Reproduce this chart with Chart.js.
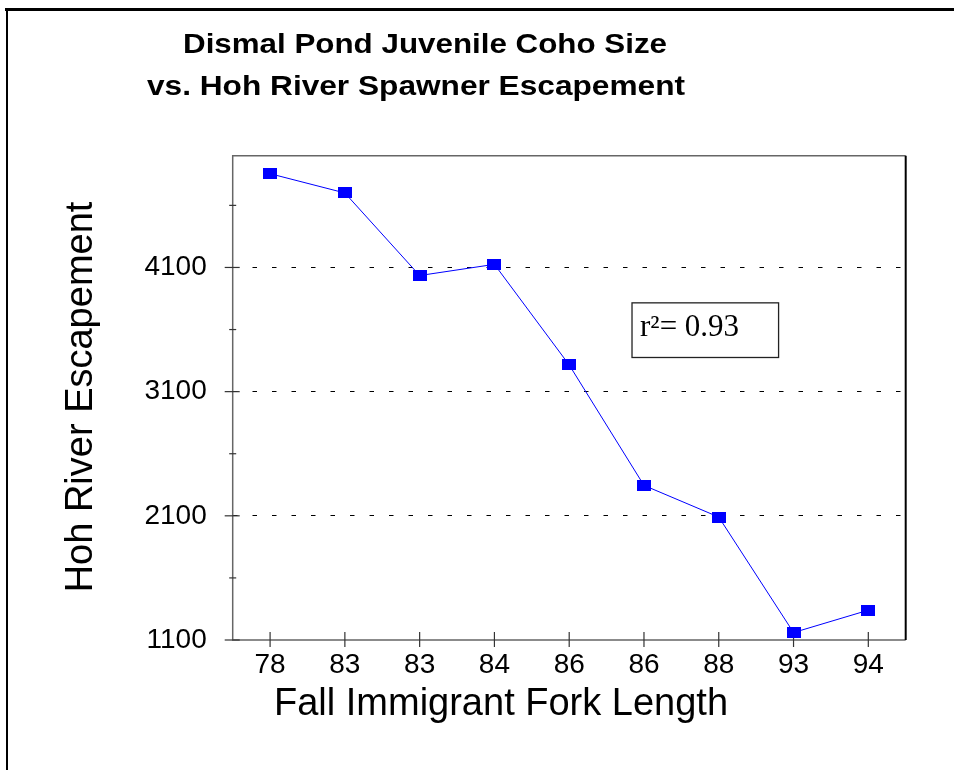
<!DOCTYPE html>
<html>
<head>
<meta charset="utf-8">
<script src="https://cdn.jsdelivr.net/npm/chart.js@4.4.1/dist/chart.umd.min.js"></script>
<style>
  html, body { margin: 0; padding: 0; background: #fff; }
</style>
</head>
<body>
<canvas id="cohoChart" width="954" height="770"></canvas>
<script>
// data
const forkLengths = ["78", "83", "83", "84", "86", "86", "88", "93", "94"];
const escapement = [4855, 4700, 4035, 4125, 3315, 2345, 2090, 1160, 1340];
const yTickValues = [1100, 1600, 2100, 2600, 3100, 3600, 4100, 4600];
const yLabelValues = [1100, 2100, 3100, 4100];
const titleLines = ["Dismal Pond Juvenile Coho Size", "vs. Hoh River Spawner Escapement"];
const yTitle = "Hoh River Escapement";
const xTitle = "Fall Immigrant Fork Length";
const rSquaredText = "r\u00b2= 0.93";

const SANS = "'Liberation Sans', Arial, sans-serif";
const SERIF = "'Liberation Serif', 'Times New Roman', serif";

// blue rectangular marker (slightly wider than tall, like the original)
const marker = document.createElement("canvas");
marker.width = 14;
marker.height = 11;
const mctx = marker.getContext("2d");
mctx.fillStyle = "#0000ff";
mctx.fillRect(0, 0, 14, 11);

// draw a line of text centred on cx, stretched to a given width
function fitText(ctx, text, cx, baseline, width) {
  const w = ctx.measureText(text).width;
  ctx.save();
  ctx.translate(cx, baseline);
  ctx.scale(width / w, 1);
  ctx.fillText(text, 0, 0);
  ctx.restore();
}

const decorations = {
  id: "decorations",
  beforeDraw(chart) {
    const ctx = chart.ctx;
    ctx.save();
    ctx.fillStyle = "#fff";
    ctx.fillRect(0, 0, chart.width, chart.height);
    // outer frame (top + left)
    ctx.fillStyle = "#000";
    ctx.fillRect(5, 8, chart.width - 5, 3);
    ctx.fillRect(6, 8, 2, chart.height - 8);
    ctx.restore();
  },
  beforeDatasetsDraw(chart) {
    const ctx = chart.ctx;
    const a = chart.chartArea;
    const xs = chart.scales.x;
    const ys = chart.scales.y;
    ctx.save();
    // plot frame
    ctx.lineWidth = 1.5;
    ctx.strokeStyle = "#666";
    ctx.beginPath();
    ctx.moveTo(a.right, a.top);
    ctx.lineTo(a.left, a.top);
    ctx.lineTo(a.left, a.bottom);
    ctx.lineTo(a.right, a.bottom);
    ctx.stroke();
    ctx.strokeStyle = "#000";
    ctx.lineWidth = 2;
    ctx.beginPath();
    ctx.moveTo(a.right, a.top);
    ctx.lineTo(a.right, a.bottom);
    ctx.stroke();

    // y ticks crossing the axis
    ctx.strokeStyle = "#333";
    ctx.lineWidth = 1.2;
    ys.ticks.forEach((t) => {
      const py = ys.getPixelForValue(t.value);
      const major = yLabelValues.includes(t.value);
      const out = major ? 8 : 3.5;
      const inn = major ? 7 : 3.5;
      ctx.beginPath();
      ctx.moveTo(a.left - out, py);
      ctx.lineTo(a.left + inn, py);
      ctx.stroke();
    });
    // x ticks crossing the axis
    forkLengths.forEach((_, i) => {
      const px = xs.getPixelForTick(i);
      ctx.beginPath();
      ctx.moveTo(px, a.bottom - 8);
      ctx.lineTo(px, a.bottom + 7);
      ctx.stroke();
    });
    ctx.restore();
  },
  afterDraw(chart) {
    const ctx = chart.ctx;
    const xs = chart.scales.x;
    const ys = chart.scales.y;
    ctx.save();
    ctx.fillStyle = "#000";

    // main title
    ctx.font = "bold 28px " + SANS;
    ctx.textAlign = "center";
    ctx.textBaseline = "alphabetic";
    fitText(ctx, titleLines[0], 425, 53, 484);
    fitText(ctx, titleLines[1], 416, 95, 538);

    // axis titles
    ctx.font = "38px " + SANS;
    ctx.fillText(xTitle, 501, 715);
    ctx.save();
    ctx.translate(82, 397);
    ctx.rotate(-Math.PI / 2);
    ctx.textBaseline = "middle";
    ctx.fillText(yTitle, 0, 0);
    ctx.restore();

    // r² box, anchored in data space
    const bx0 = xs.getPixelForValue(4.84);
    const bx1 = xs.getPixelForValue(6.8);
    const by0 = ys.getPixelForValue(3815);
    const by1 = ys.getPixelForValue(3375);
    ctx.strokeStyle = "#222";
    ctx.lineWidth = 1.3;
    ctx.strokeRect(bx0, by0, bx1 - bx0, by1 - by0);
    ctx.font = "31px " + SERIF;
    ctx.textAlign = "left";
    ctx.fillText(rSquaredText, bx0 + 8, by0 + 33);
    ctx.restore();
  },
};

const ctx = document.getElementById("cohoChart");

new Chart(ctx, {
  type: "line",
  data: {
    labels: forkLengths,
    datasets: [
      {
        label: "Hoh River Escapement",
        data: escapement,
        borderColor: "#0000ff",
        borderWidth: 1,
        backgroundColor: "#0000ff",
        pointStyle: marker,
        tension: 0,
        fill: false,
      },
    ],
  },
  options: {
    responsive: false,
    animation: false,
    devicePixelRatio: 1,
    layout: { padding: { top: 155.7, right: 48.3, left: 0, bottom: 0 } },
    plugins: {
      legend: { display: false },
      title: { display: false },
      tooltip: { enabled: false },
    },
    scales: {
      x: {
        offset: true,
        afterFit: (scale) => {
          scale.height = 130;
        },
        ticks: {
          padding: 8,
          color: "#000",
          autoSkip: false,
          maxRotation: 0,
          font: { family: SANS, size: 28 },
        },
        grid: { display: false, drawTicks: false },
        border: { display: false },
      },
      y: {
        type: "linear",
        min: 1100,
        max: 5000,
        afterBuildTicks: (scale) => {
          scale.ticks = yTickValues.map((v) => ({ value: v }));
        },
        afterFit: (scale) => {
          scale.width = 232.7;
        },
        ticks: {
          padding: 26,
          color: "#000",
          autoSkip: false,
          font: { family: SANS, size: 28 },
          callback: (v) => (yLabelValues.includes(v) ? String(v) : ""),
        },
        grid: {
          drawTicks: false,
          lineWidth: 1,
          color: (c) =>
            c.tick && c.tick.value !== 1100 && yLabelValues.includes(c.tick.value)
              ? "#000"
              : "rgba(0,0,0,0)",
        },
        border: { display: false, dash: [4.5, 15] },
      },
    },
  },
  plugins: [decorations],
});
</script>
</body>
</html>
